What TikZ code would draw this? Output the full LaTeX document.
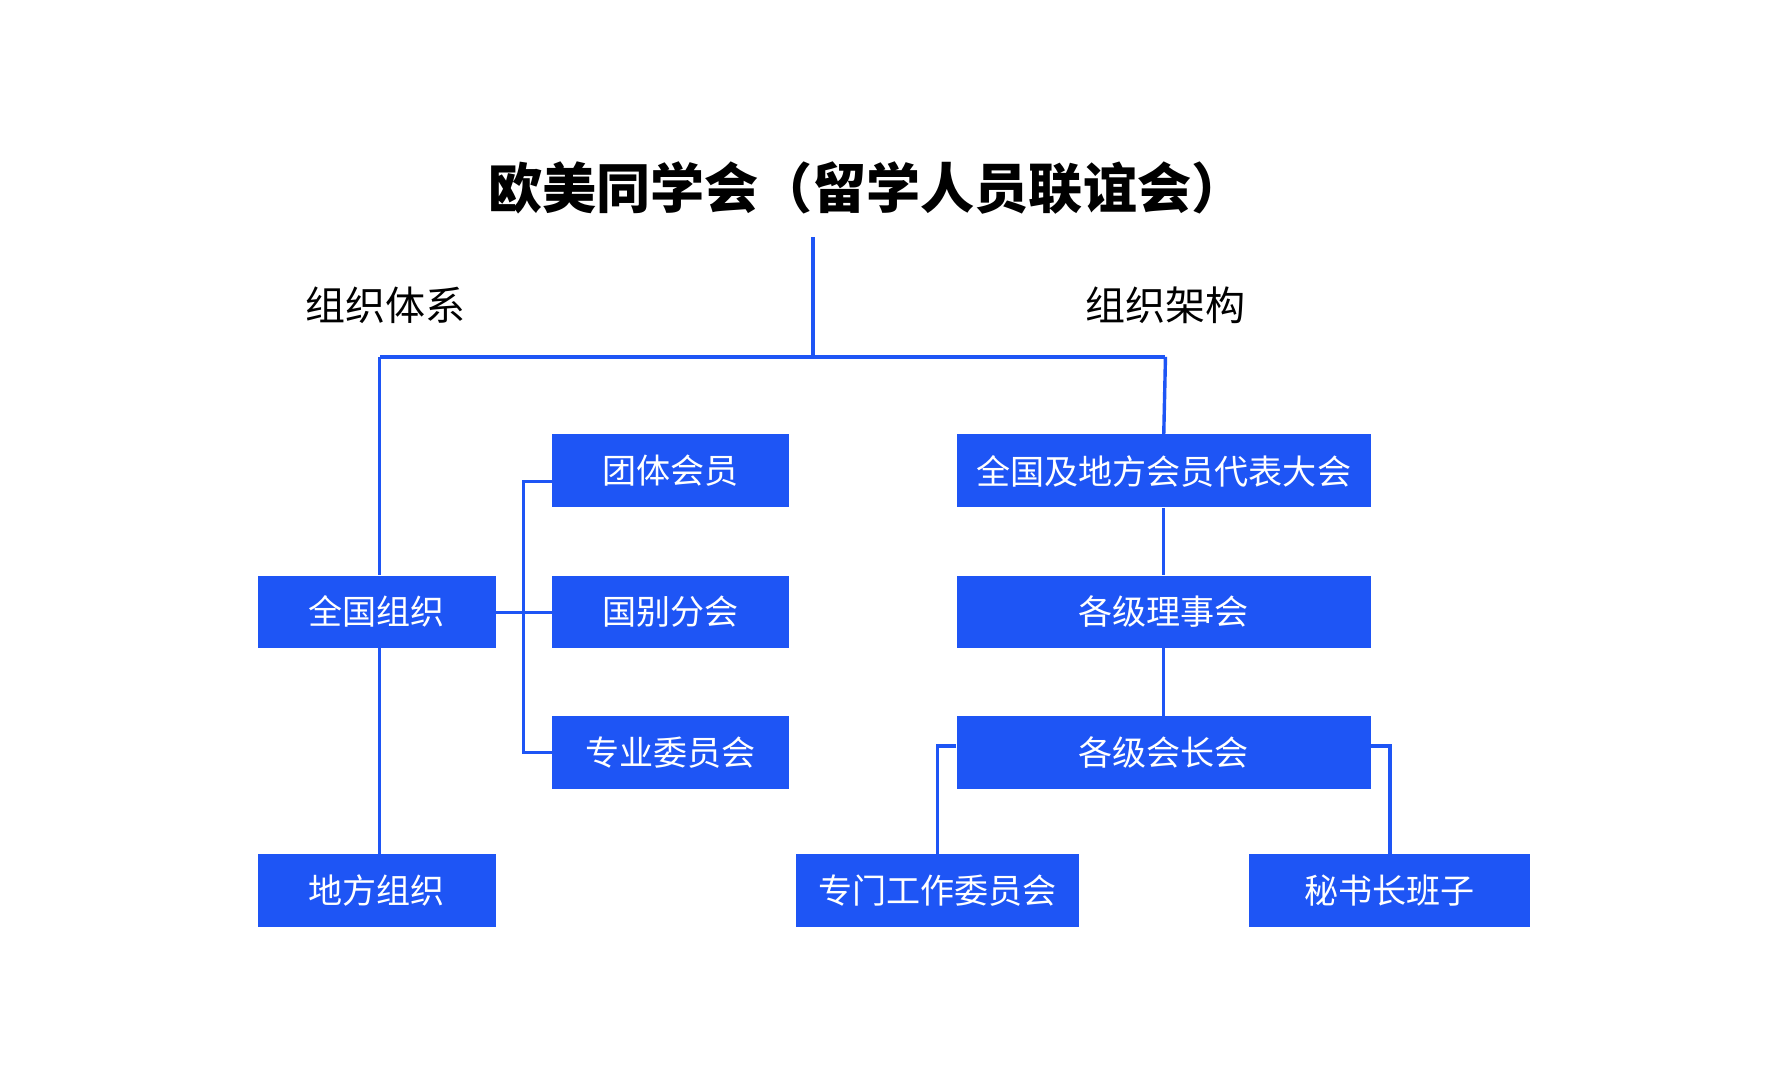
\documentclass[tikz,border=0pt]{standalone}
\usepackage{fontspec}
\setmainfont{Noto Sans CJK SC}
\newfontfamily\cjkb{Noto Sans CJK SC Black}
\definecolor{bl}{HTML}{1E55F5}
\begin{document}
\begin{tikzpicture}[x=0.02cm,y=-0.02cm,
 box/.style={fill=bl,text=white,inner sep=0,font=\fontsize{17}{20}\selectfont},
 ln/.style={draw=bl,line width=1.7pt}]
\useasboundingbox (0,0) rectangle (1560,950);
\node[font=\cjkb\fontsize{27}{30}\selectfont] (t) at (760,165) {欧美同学会（留学人员联谊会）};
\node[font=\fontsize{20}{24}\selectfont] (l1) at (338,268) {组织体系};
\node[font=\fontsize{20}{24}\selectfont] (l2) at (1022,268) {组织架构};
\newcommand{\bx}[6]{\node[box,minimum width={(#4-#2)*0.02cm},minimum height={(#5-#3)*0.02cm}] (#1) at ({(#2+#4)/2},{(#3+#5)/2}) {#6};}
\bx{qg}{226}{505}{435}{568}{全国组织}
\bx{df}{226}{749}{435}{813}{地方组织}
\bx{tt}{484}{381}{692}{445}{团体会员}
\bx{gb}{484}{505}{692}{568}{国别分会}
\bx{zy}{484}{628}{692}{692}{专业委员会}
\bx{db}{839}{381}{1202}{445}{全国及地方会员代表大会}
\bx{ls}{839}{505}{1202}{568}{各级理事会}
\bx{hz}{839}{628}{1202}{692}{各级会长会}
\bx{zm}{698}{749}{946}{813}{专门工作委员会}
\bx{ms}{1095}{749}{1342}{813}{秘书长班子}
\coordinate (top) at (713,208);
\coordinate (mid) at (713,313);
\coordinate (lc) at (333,313);
\coordinate (rc) at (1022,313);
\coordinate (br) at (459,537);
\draw[ln] (top) -- (mid);
\draw[ln] (lc) -- (rc);
\draw[ln] (lc) -- (lc|-qg.north);
\draw[ln] (lc|-qg.south) -- (lc|-df.north);
\draw[ln] (rc) -- (db.north);
\draw[ln] (db) -- (ls);
\draw[ln] (ls) -- (hz);
\draw[ln] (qg.east|-br) -- (gb.west|-br);
\draw[ln] (tt.west|-0,422) -- (459,422) -- (459,660) -- (zy.west|-0,660);
\draw[ln] (hz.west|-0,654) -- (822,654) -- (zm.north-|822,0);
\draw[ln] (hz.east|-0,654) -- (1219,654) -- (ms.north-|1219,0);
\end{tikzpicture}
\end{document}
